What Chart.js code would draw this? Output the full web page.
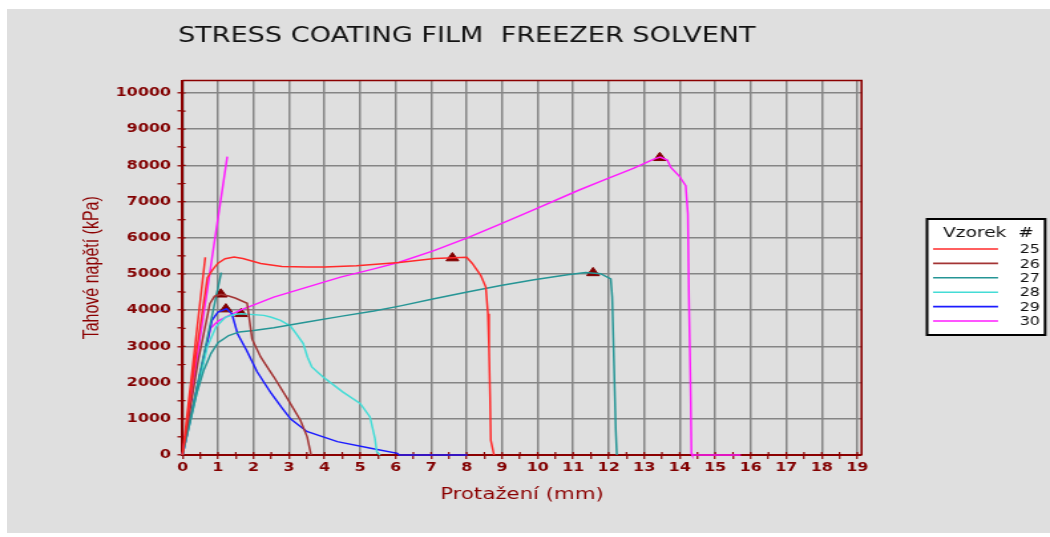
<!DOCTYPE html>
<html>
<head>
<meta charset="utf-8">
<script src="https://cdn.jsdelivr.net/npm/chart.js@4.4.1/dist/chart.umd.min.js"></script>
<style>
  html, body { margin: 0; padding: 0; background: #ffffff; width: 1050px; height: 537px; overflow: hidden; }
  #panel { position: absolute; left: 7px; top: 9px; width: 1043px; height: 524px; background: #dfdfdf; }
  /* the plot is laid out on a 790px wide canvas and widened to the full 1050px panel */
  #wrap { position: absolute; left: 0; top: 0; width: 790px; height: 537px;
          transform: scaleX(1.329114); transform-origin: 0 0; }
</style>
</head>
<body>
<div id="panel"></div>
<div id="wrap"><canvas id="c" width="790" height="537"></canvas></div>
<script>
// ---- texts ----
const chartTitle = 'STRESS COATING FILM  FREEZER SOLVENT';
const xAxisTitle = 'Protažení (mm)';
const yAxisTitle = 'Tahové napětí (kPa)';
const legendTitle = 'Vzorek  #';

// ---- tick labels ----
const xTickLabels = ['0','1','2','3','4','5','6','7','8','9','10','11','12','13','14','15','16','17','18','19'];
const yTickLabels = ['0','1000','2000','3000','4000','5000','6000','7000','8000','9000','10000'];

// ---- samples ----
const sampleIds = ['25', '26', '27', '28', '29', '30'];
const sampleColors = ['#ff2a2a', '#a33434', '#259595', '#44dcd6', '#1c1cff', '#ff1cff'];

// [elongation mm, tensile stress kPa]
const sample25 = [[0,0],[0.64,5460],[0,0],[0.4,2900],[0.7,4900],[0.85,5120],[1.0,5300],[1.2,5420],[1.45,5470],
  [1.7,5430],[2.2,5290],[2.8,5210],[3.5,5190],[4.0,5190],[4.9,5230],[6.1,5320],[7.1,5430],[8.0,5460],
  [8.16,5290],[8.3,5100],[8.4,4960],[8.54,4640],[8.6,3900],[8.63,2980],[8.66,1600],[8.68,410],[8.77,0]];
const sample26 = [[0,0],[0.45,2650],[0.77,4180],[0.9,4380],[1.08,4440],[1.3,4390],[1.5,4330],[1.82,4190],
  [1.96,3200],[2.2,2710],[2.57,2160],[3.04,1420],[3.32,960],[3.51,500],[3.62,0]];
const sample27 = [[0,0],[1.09,5040],[0,0],[0.4,1700],[0.6,2350],[0.8,2800],[1.0,3100],[1.3,3300],[1.6,3400],
  [2.0,3440],[2.57,3516],[3.51,3672],[4.45,3829],[5.39,3976],[6.14,4120],[7.08,4316],[8.02,4500],[8.96,4683],
  [9.9,4839],[10.84,4977],[11.35,5040],[11.77,5010],[12.06,4867],[12.1,4362],[12.15,2526],[12.2,689],[12.23,0]];
const sample28 = [[0,0],[0.7,3000],[0.95,3550],[1.2,3800],[1.45,3880],[1.65,3900],[2.29,3857],[2.48,3810],
  [2.76,3719],[3.04,3560],[3.2,3350],[3.4,3077],[3.52,2700],[3.64,2433],[3.96,2157],[4.5,1750],[5.0,1424],
  [5.28,1050],[5.42,450],[5.47,91],[5.56,0]];
const sample29 = [[0,0],[0.83,3720],[1.0,3950],[1.24,4040],[1.39,3900],[1.55,3350],[1.8,2900],[2.1,2300],
  [2.5,1700],[2.8,1300],[3.04,1000],[3.5,650],[4.36,370],[5.3,185],[6.05,47],[6.1,0],[8.02,0]];
const sample30 = [[0,0],[1.26,8240],[0,0],[0.78,3490],[1.0,3700],[1.3,3850],[1.63,4000],[2.57,4362],[3.51,4637],
  [4.45,4913],[5.39,5142],[6.1,5325],[7.08,5647],[8.02,5997],[8.96,6383],[9.9,6777],[11.12,7300],[11.77,7557],
  [12.71,7925],[13.27,8173],[13.45,8230],[13.65,8146],[13.75,7943],[13.98,7713],[14.17,7438],[14.23,6658],
  [14.26,4362],[14.31,1606],[14.33,40],[14.35,0],[15.72,0]];

// maximum stress point of each sample
const peakStrain = [7.6, 1.08, 11.56, 1.65, 1.22, 13.44];
const peakStress = [5440, 4440, 5030, 3900, 4030, 8210];

// ---- styling ----
const axisColor = '#8b0000';
const labelColor = '#820000';
const gridColor = '#858585';

const samples = [sample25, sample26, sample27, sample28, sample29, sample30];

// tick positions: labelled ticks every unit, small marks halfway between
const xTickValues = [];
xTickLabels.forEach((t, i) => { xTickValues.push(Number(t)); if (i < xTickLabels.length - 1) xTickValues.push(Number(t) + 0.5); });
const yTickValues = [];
yTickLabels.forEach((t, i) => { yTickValues.push(Number(t)); if (i < yTickLabels.length - 1) yTickValues.push(Number(t) + 500); });

const datasets = samples.map((pts, i) => ({
  label: sampleIds[i],
  data: pts.map(p => ({ x: p[0], y: p[1] })),
  borderColor: sampleColors[i],
  backgroundColor: sampleColors[i],
  borderWidth: 1.5,
  showLine: true,
  pointRadius: 0,
  pointHoverRadius: 0,
  tension: 0,
  clip: false
}));
datasets.push({
  label: 'peak',
  data: peakStrain.map((v, i) => ({ x: v, y: peakStress[i] })),
  showLine: false,
  pointStyle: 'triangle',
  pointRadius: 5.5,
  pointBackgroundColor: '#800000',
  pointBorderColor: '#800000',
  pointBorderWidth: 1,
  clip: false
});

// top/right frame edges and the inner half of every axis tick mark
const frameMarks = {
  id: 'frameMarks',
  beforeDatasetsDraw(chart) {
    const { ctx, chartArea: a, scales: { x, y } } = chart;
    ctx.save();
    ctx.strokeStyle = axisColor;
    ctx.lineWidth = 1.2;
    ctx.beginPath();
    xTickValues.forEach(v => {
      const px = x.getPixelForValue(v);
      ctx.moveTo(px, a.bottom);
      ctx.lineTo(px, a.bottom - 3);
    });
    yTickValues.forEach(v => {
      const py = y.getPixelForValue(v);
      ctx.moveTo(a.left, py);
      ctx.lineTo(a.left + 2.3, py);
    });
    ctx.stroke();
    ctx.lineWidth = 1.6;
    ctx.beginPath();
    ctx.moveTo(a.left, a.top);
    ctx.lineTo(a.right, a.top);
    ctx.lineTo(a.right, a.bottom);
    ctx.stroke();
    ctx.restore();
  }
};

const headline = {
  id: 'headline',
  afterDraw(chart) {
    const ctx = chart.ctx;
    ctx.save();
    ctx.font = '20.4px "DejaVu Sans"';
    ctx.fillStyle = '#141414';
    ctx.textAlign = 'left';
    ctx.textBaseline = 'alphabetic';
    ctx.fillText(chartTitle, 133.9, 42);
    ctx.restore();
  }
};

const sampleKey = {
  id: 'sampleKey',
  afterDraw(chart) {
    const ctx = chart.ctx;
    const left = 697.5, top = 219, right = 786.3, bottom = 335;
    ctx.save();
    ctx.fillStyle = '#ffffff';
    ctx.fillRect(left, top, right - left, bottom - top);
    ctx.strokeStyle = '#000000';
    ctx.lineWidth = 2;
    ctx.strokeRect(left, top, right - left, bottom - top);
    ctx.fillStyle = '#111111';
    ctx.font = '14px "DejaVu Sans"';
    ctx.textBaseline = 'alphabetic';
    ctx.textAlign = 'left';
    ctx.fillText(legendTitle, 709.5, 237);
    ctx.font = '12px "DejaVu Sans"';
    ctx.textAlign = 'right';
    ctx.textBaseline = 'middle';
    chart.data.datasets.forEach((ds, i) => {
      if (!sampleIds.includes(ds.label)) return;
      const rowY = 249 + i * 14.4;
      ctx.strokeStyle = ds.borderColor;
      ctx.lineWidth = 1.6;
      ctx.beginPath();
      ctx.moveTo(702, rowY);
      ctx.lineTo(750.9, rowY);
      ctx.stroke();
      ctx.fillStyle = '#111111';
      ctx.fillText(ds.label, 782.5, rowY + 1);
    });
    ctx.restore();
  }
};

new Chart(document.getElementById('c'), {
  type: 'scatter',
  data: { datasets },
  plugins: [frameMarks, headline, sampleKey],
  options: {
    responsive: false,
    animation: false,
    events: [],
    layout: { padding: { left: 0, top: 80.5, right: 141.8, bottom: 0 } },
    plugins: { legend: { display: false }, title: { display: false }, tooltip: { enabled: false } },
    scales: {
      x: {
        type: 'linear',
        min: 0,
        max: 19.12,
        afterFit: s => { s.height = 82; },
        afterBuildTicks: s => { s.ticks = xTickValues.map(v => ({ value: v })); },
        ticks: {
          autoSkip: false,
          maxRotation: 0,
          padding: 2,
          color: labelColor,
          font: { family: 'DejaVu Sans', weight: 'bold', size: 12 },
          callback: v => (Number.isInteger(v) ? xTickLabels[v] : '')
        },
        grid: {
          color: c => (c.tick && Number.isInteger(c.tick.value) ? gridColor : 'rgba(0,0,0,0)'),
          lineWidth: 1.5,
          tickColor: axisColor,
          tickLength: 4,
          tickWidth: 1.2
        },
        border: { color: axisColor, width: 2 },
        title: {
          display: true,
          text: xAxisTitle,
          color: axisColor,
          font: { family: 'DejaVu Sans', size: 16 },
          padding: { top: 0, bottom: 32.4 }
        }
      },
      y: {
        type: 'linear',
        min: 0,
        max: 10345,
        afterFit: s => { s.width = 137.3; },
        afterBuildTicks: s => { s.ticks = yTickValues.map(v => ({ value: v })); },
        ticks: {
          autoSkip: false,
          padding: 4.8,
          color: labelColor,
          font: { family: 'DejaVu Sans', weight: 'bold', size: 12 },
          callback: v => (v % 1000 === 0 ? yTickLabels[v / 1000] : '')
        },
        grid: {
          color: c => (c.tick && c.tick.value % 1000 === 0 ? gridColor : 'rgba(0,0,0,0)'),
          lineWidth: 1.6,
          tickColor: axisColor,
          tickLength: 3.8,
          tickWidth: 1.3
        },
        border: { color: axisColor, width: 2 },
        title: {
          display: true,
          text: yAxisTitle,
          color: axisColor,
          font: { family: 'Liberation Sans', size: 16 },
          padding: { top: 59.6, bottom: 0 }
        }
      }
    }
  }
});
</script>
</body>
</html>
